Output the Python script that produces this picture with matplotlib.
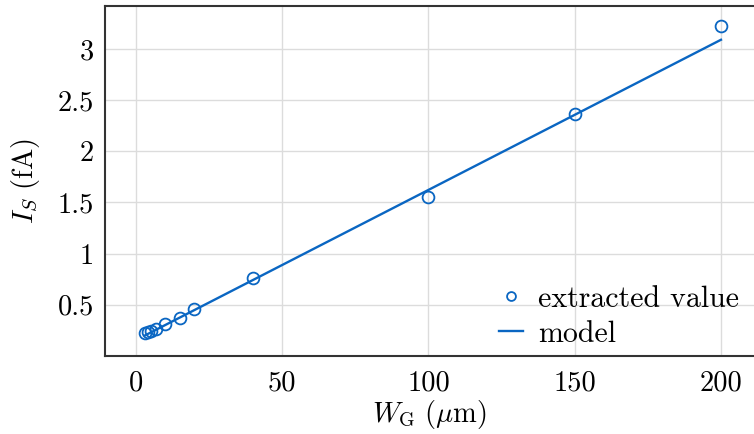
import matplotlib
matplotlib.use("Agg")
import matplotlib.pyplot as plt
from matplotlib.ticker import FixedLocator, FixedFormatter

plt.rcParams['font.family'] = ['cmr10', 'DejaVu Serif']
plt.rcParams['mathtext.fontset'] = 'cm'
plt.rcParams['axes.formatter.use_mathtext'] = True

# data
wg = [3, 4, 5, 7, 10, 15, 20, 40, 100, 150, 200]
is_extracted = [0.225, 0.235, 0.245, 0.264, 0.31, 0.372, 0.46, 0.765, 1.556, 2.368, 3.22]
model_x = [3, 200]
model_y = [0.20, 3.09]
xticks = [0, 50, 100, 150, 200]
xticklabels = ['0', '50', '100', '150', '200']
yticks = [0.5, 1, 1.5, 2, 2.5, 3]
yticklabels = ['0.5', '1', '1.5', '2', '2.5', '3']

blue = '#0a66c2'
fs = 20.5
fig = plt.figure(figsize=(7.54, 4.34), dpi=100)
ax = fig.add_axes([105/754, 78/434, 1 - 105/754, 350/434])

ax.plot(wg, is_extracted, linestyle='none', marker='o', markersize=8.5,
        markerfacecolor='none', markeredgecolor=blue, markeredgewidth=1.3,
        label='extracted value', zorder=3)
ax.plot(model_x, model_y, color=blue, linewidth=1.7, label='model', zorder=2)

ax.set_xlim(-10.6, 211.3)
ax.set_ylim(0, 3.42)
ax.xaxis.set_major_locator(FixedLocator(xticks))
ax.xaxis.set_major_formatter(FixedFormatter(xticklabels))
ax.yaxis.set_major_locator(FixedLocator(yticks))
ax.yaxis.set_major_formatter(FixedFormatter(yticklabels))
ax.tick_params(length=0, labelsize=fs, pad=8)
ax.tick_params(axis='x', pad=10)
ax.grid(True, color='#dcdcdc', linewidth=1.0)
ax.set_axisbelow(True)
for s in ['left', 'bottom', 'top']:
    ax.spines[s].set_color('#333333')
    ax.spines[s].set_linewidth(1.5)
ax.spines['right'].set_visible(False)

ax.set_xlabel(r'$W_{\mathrm{G}}\ (\mu\mathrm{m})$', fontsize=fs, labelpad=1)
ax.set_ylabel(r'$I_S\ (\mathrm{fA})$', fontsize=fs, labelpad=11)

leg = ax.legend(loc='lower right', frameon=False, fontsize=21.5, handlelength=0.8,
                handletextpad=0.5, labelspacing=0.25, borderaxespad=0.0,
                markerscale=0.75, bbox_to_anchor=(0.995, -0.01))

fig.savefig('out.png', dpi=100)
